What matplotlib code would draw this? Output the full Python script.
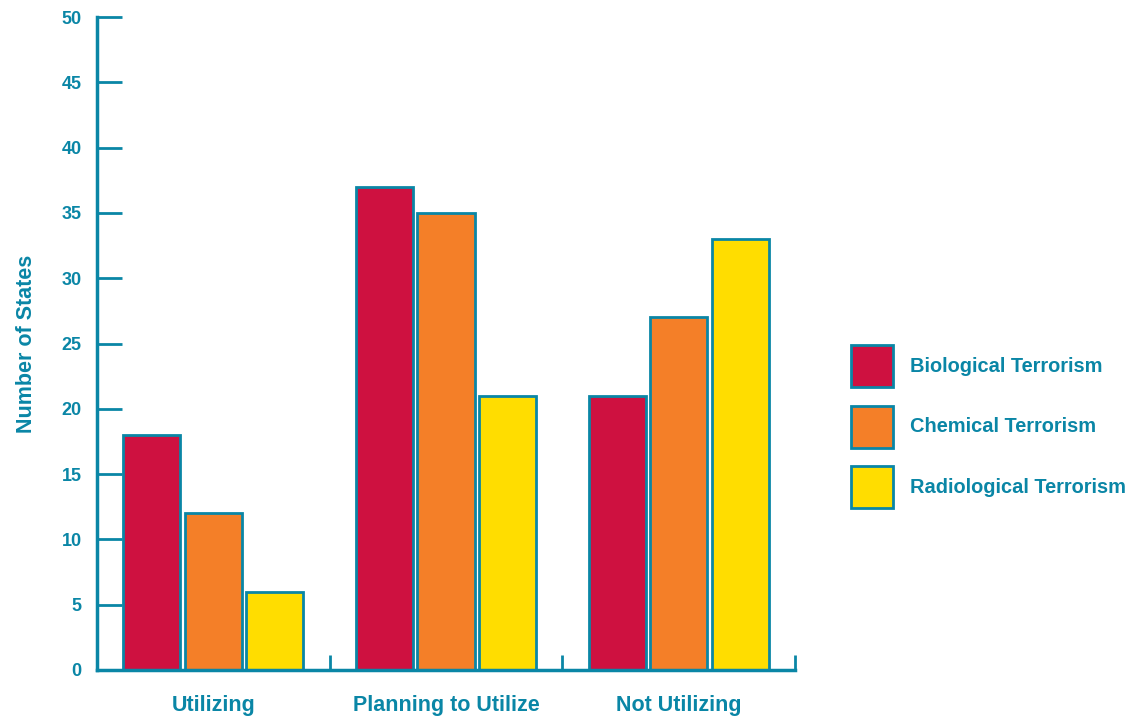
import numpy as np
import matplotlib.pyplot as plt

categories = ['Utilizing', 'Planning to Utilize', 'Not Utilizing']
series = ['Biological Terrorism', 'Chemical Terrorism', 'Radiological Terrorism']
biological = [18, 37, 21]
chemical = [12, 35, 27]
radiological = [6, 21, 33]
y_ticks = [0, 5, 10, 15, 20, 25, 30, 35, 40, 45, 50]

teal = '#0A86A6'
colors = ['#CE1140', '#F47F28', '#FFDD00']

plt.rcParams['font.family'] = ['Liberation Sans', 'DejaVu Sans']
plt.rcParams['font.weight'] = 'bold'

fig = plt.figure(figsize=(11.37, 7.17), dpi=100)
ax = fig.add_axes([97 / 1137, 47 / 717, 698 / 1137, 653 / 717])

x = np.arange(len(categories)) + 0.5
width = 0.245
step = 0.265
for i, (vals, name) in enumerate(zip([biological, chemical, radiological], series)):
    ax.bar(x + (i - 1) * step, vals, width, color=colors[i], edgecolor=teal,
           linewidth=2, label=name, zorder=2)

ax.set_xlim(0, 3)
ax.set_ylim(0, 50)
ax.set_yticks(y_ticks)
ax.set_yticklabels([str(t) for t in y_ticks])
ax.tick_params(axis='y', direction='in', length=18, width=2, color=teal,
               labelcolor=teal, labelsize=13, pad=11)

# category dividers as short upward ticks on the baseline
ax.set_xticks([1, 2, 3])
ax.set_xticklabels([])
ax.tick_params(axis='x', direction='in', length=11, width=2, color=teal)
for xi, cat in zip(x, categories):
    ax.text(xi, -2.7, cat, ha='center', va='center', color=teal,
            fontsize=15.5, fontweight='bold')

for s in ['top', 'right']:
    ax.spines[s].set_visible(False)
for s in ['left', 'bottom']:
    ax.spines[s].set_color(teal)
    ax.spines[s].set_linewidth(2.5)

ax.set_ylabel('Number of States', color=teal, fontsize=15.5, fontweight='bold',
              labelpad=18)

fig.legend(loc='upper left', bbox_to_anchor=(841 / 1137, 1 - 335 / 717),
           frameon=False, fontsize=14.4, handlelength=2.1, handleheight=2.854,
           labelspacing=0.925, handletextpad=0.85, borderpad=0, labelcolor=teal)

fig.savefig('out.png', dpi=100)
